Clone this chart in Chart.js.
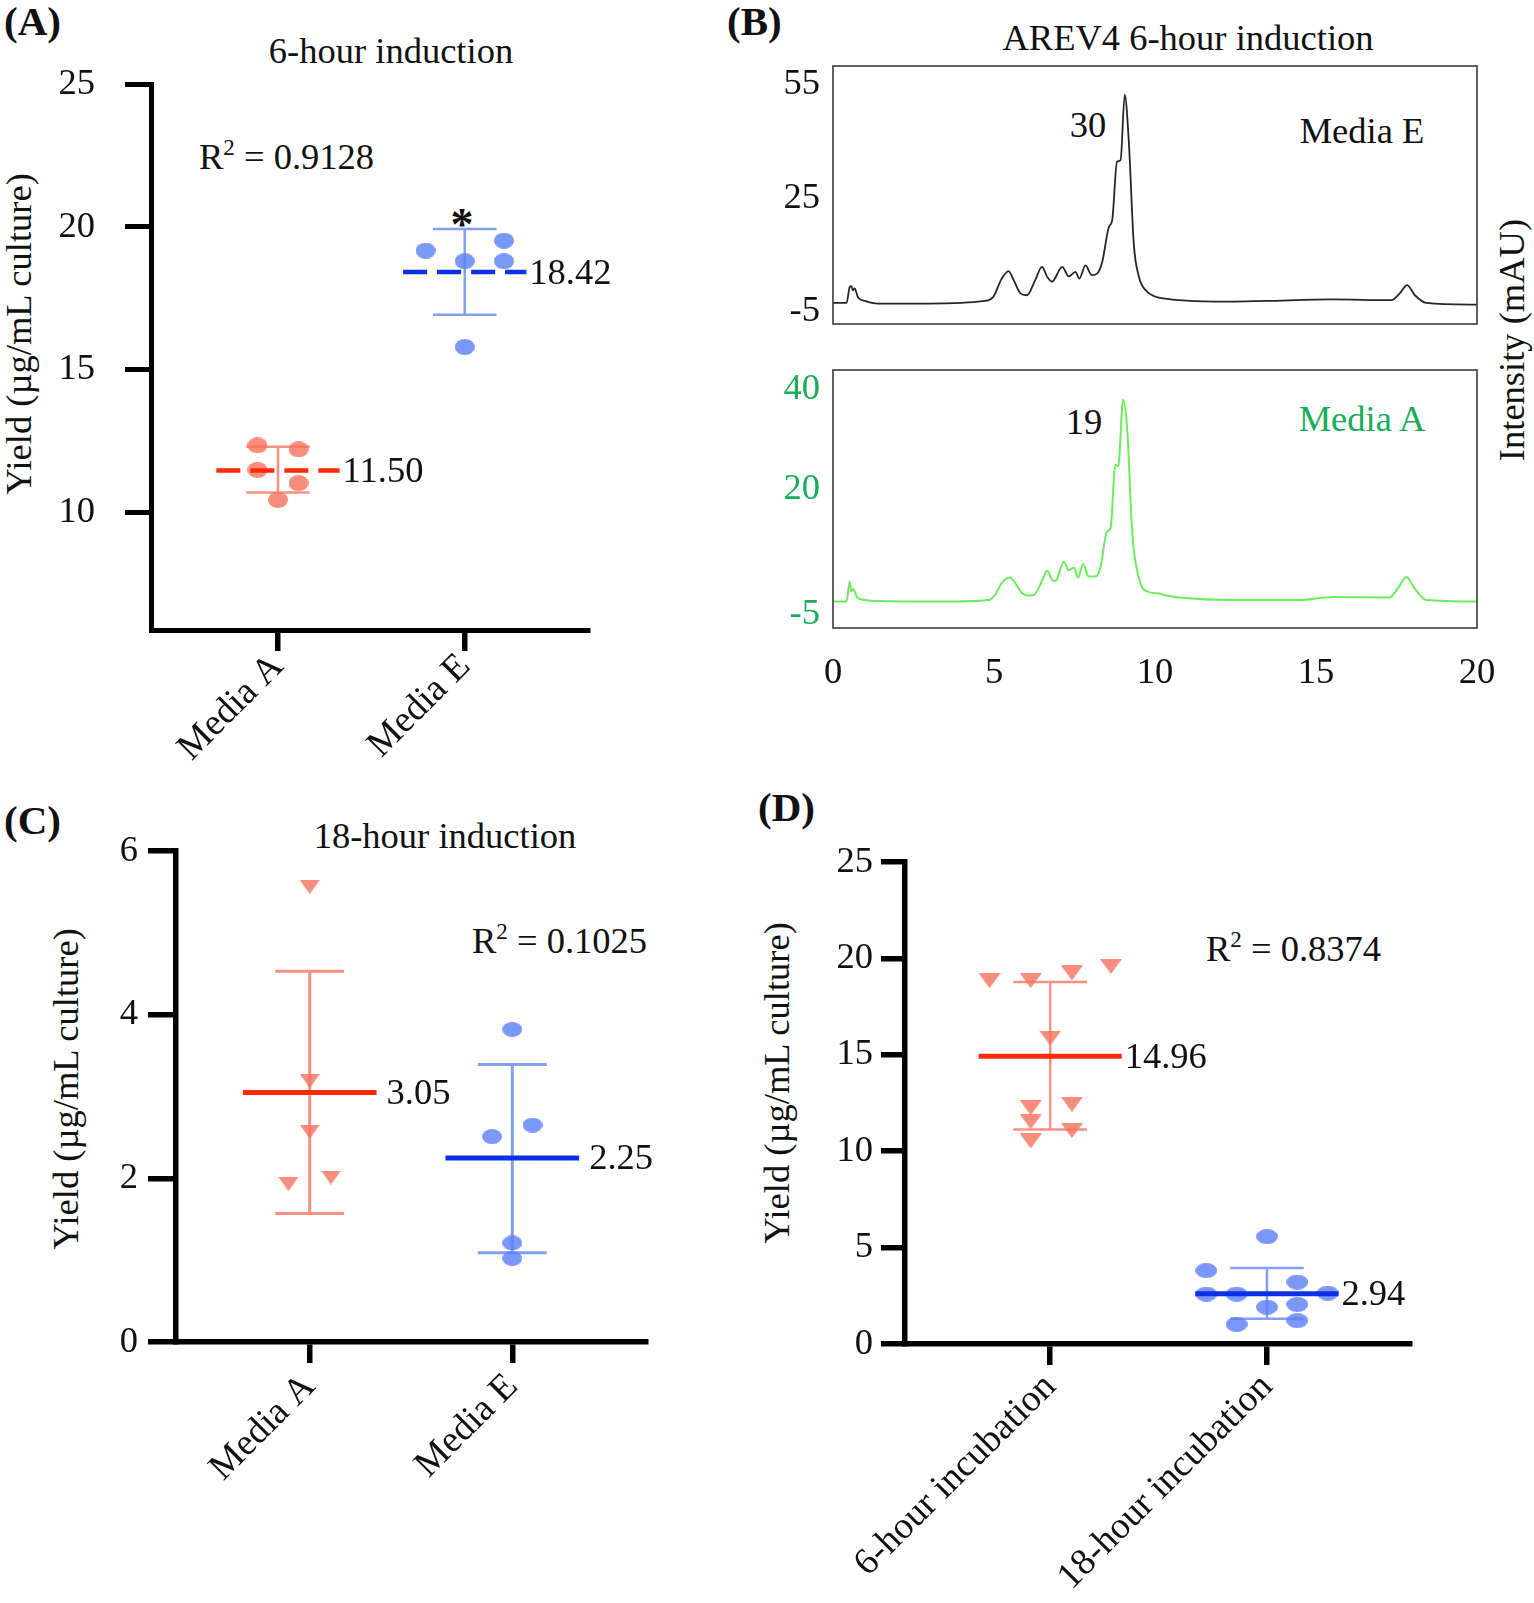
<!DOCTYPE html>
<html>
<head>
<meta charset="utf-8">
<script src="https://cdn.jsdelivr.net/npm/chart.js"></script>
<style>
  body { margin: 0; background: #fff; }
  #fig { position: relative; width: 1534px; height: 1603px; overflow: hidden;
         font-family: "Liberation Serif", "Times New Roman", serif; color: #111; }
  #fig canvas { position: absolute; }
  .t { position: absolute; white-space: nowrap; font-size: 36.5px; line-height: 1; }
  .l { transform: translate(0, -50%); }
  .c { transform: translate(-50%, -50%); }
  .v { transform: translate(-50%, -50%) rotate(-90deg); }
  .panel { font-weight: bold; font-size: 41px; }
  sup { font-size: 23px; line-height: 0; vertical-align: 14px; }
  .green { color: #18ad58; }
</style>
</head>
<body>
<div id="fig">
  <div class="t l panel" style="left:4px;top:21px">(A)</div>
  <div class="t l panel" style="left:727px;top:21px">(B)</div>
  <div class="t l panel" style="left:4px;top:820px">(C)</div>
  <div class="t l panel" style="left:758px;top:807px">(D)</div>

  <div class="t c" style="left:391px;top:51px">6-hour induction</div>
  <div class="t c" style="left:1188px;top:38px">AREV4 6-hour induction</div>
  <div class="t c" style="left:445px;top:836px">18-hour induction</div>

  <div class="t l" style="left:199px;top:157px">R<sup>2</sup> = 0.9128</div>
  <div class="t l" style="left:472px;top:941px">R<sup>2</sup> = 0.1025</div>
  <div class="t l" style="left:1206px;top:949px">R<sup>2</sup> = 0.8374</div>

  <div class="t v" style="left:19px;top:334px">Yield (µg/mL culture)</div>
  <div class="t v" style="left:66px;top:1089px">Yield (µg/mL culture)</div>
  <div class="t v" style="left:777px;top:1083px">Yield (µg/mL culture)</div>
  <div class="t v" style="left:1512px;top:340px">Intensity (mAU)</div>

  <div class="t c" style="left:462px;top:225px;font-weight:bold;font-size:46px">*</div>
  <div class="t c" style="left:1088px;top:125px">30</div>
  <div class="t c" style="left:1362px;top:131px">Media E</div>
  <div class="t c" style="left:1084px;top:422px">19</div>
  <div class="t c green" style="left:1362px;top:419px">Media A</div>

  <canvas id="chartA" width="700" height="720" style="left:0;top:60px"></canvas>
  <canvas id="chartB1" width="814" height="290" style="left:720px;top:55px"></canvas>
  <canvas id="chartB2" width="814" height="360" style="left:720px;top:350px"></canvas>
  <canvas id="chartC" width="720" height="778" style="left:0;top:825px"></canvas>
  <canvas id="chartD" width="814" height="768" style="left:720px;top:835px"></canvas>
</div>

<script>
// ---- panel A: 6-hour induction ----
const groupsA = ['Media A', 'Media E'];
const yieldA_mediaA = [12.36, 12.22, 11.50, 11.04, 10.45];
const jitterA_mediaA = [-0.11, 0.11, -0.11, 0.11, 0];
const yieldA_mediaE = [19.17, 19.52, 18.80, 18.80, 15.80];
const jitterA_mediaE = [-0.21, 0.21, 0, 0.21, 0];
const meanA = [11.48, 18.42];
const sdLowA = [10.71, 16.93];
const sdHighA = [12.31, 19.93];
const meanTextA = ['11.50', '18.42'];
const yTicksA = [10, 15, 20, 25];

// ---- panel B: chromatograms (time in min, intensity in mAU) ----
const chromE_time = [0, 0.42, 0.52, 0.57, 0.62, 0.67, 0.78, 0.99, 1.40, 2.96, 4.72, 4.98, 5.24, 5.45, 5.61,
  5.82, 6.02, 6.28, 6.49, 6.65, 6.80, 7.12, 7.32, 7.53, 7.65, 7.84, 8.04, 8.20, 8.36, 8.57, 8.67, 8.82,
  8.93, 9.06, 9.19, 9.34, 9.50, 9.71, 10.02, 10.33, 10.75, 12.3, 13.45, 15.52, 17.34, 17.60, 17.83, 18.07,
  18.43, 20];
const chromE_mau = [-2.6, -2.6, 1.6, 1.8, 0.7, 1.2, -1.2, -2.1, -2.8, -2.8, -2.1, -1.0, 3.8, 5.8, 3.4,
  -0.1, -0.6, 3.4, 6.9, 4.3, 3.0, 6.9, 4.4, 5.6, 3.8, 7.3, 4.7, 5.1, 8.2, 17.5, 19.2, 34.7,
  35.1, 52.4, 39.5, 13.1, 4.3, 0.7, -1.0, -1.5, -1.9, -2.3, -2.1, -1.7, -1.9, -0.1, 2.1, -0.6,
  -2.6, -3.1];
const chromA_time = [0, 0.42, 0.52, 0.57, 0.62, 0.78, 1.40, 3.48, 4.83, 5.03, 5.24, 5.50, 5.66, 5.87,
  6.08, 6.23, 6.49, 6.65, 6.80, 6.91, 7.17, 7.32, 7.48, 7.61, 7.77, 7.94, 8.15, 8.30, 8.51, 8.62, 8.77,
  8.86, 9.01, 9.14, 9.29, 9.50, 9.81, 10.13, 10.33, 10.75, 12.3, 14.48, 15.52, 17.28, 17.55, 17.81,
  18.07, 18.43, 20];
const chromA_mau = [-2.5, -2.5, 1.5, -0.5, 0.0, -1.9, -2.4, -2.5, -2.2, -1.2, 1.2, 2.3, 1.2, -0.8,
  -1.3, -1.2, 1.6, 3.7, 1.9, 1.6, 5.5, 3.7, 4.3, 2.3, 5.0, 2.5, 2.5, 4.2, 11.5, 12.2, 24.9,
  24.6, 38.0, 31.7, 11.5, 2.2, -0.6, -0.9, -1.3, -1.7, -2.2, -2.2, -1.6, -1.7, 0.2, 2.4,
  0.05, -2.2, -2.5];
const xTicksB = [0, 5, 10, 15, 20];
const yTicksB_top = [55, 25, -5];
const yTicksB_bottom = [40, 20, -5];

// ---- panel C: 18-hour induction ----
const groupsC = ['Media A', 'Media E'];
const yieldC_mediaA = [5.56, 3.19, 2.57, 1.93, 2.01];
const jitterC_mediaA = [0, 0, 0, -0.105, 0.105];
const yieldC_mediaE = [3.82, 2.51, 2.65, 1.21, 1.02];
const jitterC_mediaE = [0, -0.10, 0.10, 0, 0];
const meanC = [3.05, 2.25];
const sdLowC = [1.57, 1.09];
const sdHighC = [4.53, 3.39];
const meanTextC = ['3.05', '2.25'];
const yTicksC = [0, 2, 4, 6];

// ---- panel D: incubation time ----
const groupsD = ['6-hour incubation', '18-hour incubation'];
const yieldD_6h = [18.85, 18.85, 19.25, 19.58, 15.87, 12.26, 12.43, 11.53, 11.07, 10.53];
const jitterD_6h = [-0.28, -0.09, 0.10, 0.28, 0, -0.09, 0.10, -0.09, 0.10, -0.09];
const yieldD_18h = [5.57, 3.81, 2.59, 2.59, 3.21, 2.64, 1.91, 2.05, 1.02, 1.21];
const jitterD_18h = [0, -0.28, -0.28, -0.14, 0.14, 0.28, 0, 0.14, -0.14, 0.14];
const meanD = [14.92, 2.60];
const sdLowD = [11.12, 1.31];
const sdHighD = [18.77, 3.94];
const meanTextD = ['14.96', '2.94'];
const yTicksD = [0, 5, 10, 15, 20, 25];

Chart.defaults.font.family = '"Liberation Serif", "Times New Roman", serif';
Chart.defaults.color = '#111';
Chart.defaults.animation = false;

const SERIF = '"Liberation Serif", "Times New Roman", serif';
const RED_PT = 'rgba(248,112,92,0.8)';
const BLUE_PT = 'rgba(90,125,245,0.8)';
const RED_MEAN = '#ff2a08';
const BLUE_MEAN = '#0b30e6';
const RED_ERR = 'rgba(244,110,90,0.75)';
const BLUE_ERR = 'rgba(90,125,240,0.75)';
const MEAN_HALF = 0.33;
const CAP_HALF = 0.17;

// marker images (Prism-like flattened dots and down triangles)
function ellipse(w, h, color) {
  const c = document.createElement('canvas');
  c.width = w; c.height = h;
  const g = c.getContext('2d');
  g.fillStyle = color;
  g.beginPath();
  g.ellipse(w / 2, h / 2, w / 2, h / 2, 0, 0, Math.PI * 2);
  g.fill();
  return c;
}
function triDown(w, h, color) {
  const c = document.createElement('canvas');
  c.width = w; c.height = h;
  const g = c.getContext('2d');
  g.fillStyle = color;
  g.beginPath();
  g.moveTo(0, 0); g.lineTo(w, 0); g.lineTo(w / 2, h); g.closePath();
  g.fill();
  return c;
}

// chart area placement: canvas rect + wanted plot box (page pixels)
function place(canvasId, box) {
  const el = document.getElementById(canvasId);
  const cx = parseFloat(el.style.left), cy = parseFloat(el.style.top);
  return {
    padTop: box.top - cy,
    padRight: cx + el.width - box.right,
    yWidth: box.left - cx,
    xHeight: cy + el.height - box.bottom
  };
}

// fixed axis sizes; drop the label overflow padding so the plot box stays put
function fixY(width) {
  return s => { s.width = width; s.paddingTop = 0; s.paddingBottom = 0; };
}
function fixX(height) {
  return s => { s.height = height; s.paddingLeft = 0; s.paddingRight = 0; };
}

const meanLabels = {
  id: 'meanLabels',
  afterDatasetsDraw(chart, args, opts) {
    const { ctx, scales } = chart;
    ctx.save();
    ctx.font = '36.5px ' + SERIF;
    ctx.fillStyle = '#111';
    ctx.textAlign = 'left';
    ctx.textBaseline = 'middle';
    (opts.items || []).forEach(it => {
      ctx.fillText(it.text, scales.x.getPixelForValue(it.x) + opts.gap, scales.y.getPixelForValue(it.y) + 2);
    });
    ctx.restore();
  }
};

const frame = {
  id: 'frame',
  afterDraw(chart) {
    const a = chart.chartArea, ctx = chart.ctx;
    ctx.save();
    ctx.strokeStyle = '#3a3a3a';
    ctx.lineWidth = 1.6;
    ctx.strokeRect(a.left, a.top, a.right - a.left, a.bottom - a.top);
    ctx.restore();
  }
};

function dotPanel(id, p) {
  const pl = place(id, p.box);
  const colors = [[RED_PT, RED_MEAN, RED_ERR], [BLUE_PT, BLUE_MEAN, BLUE_ERR]];
  const datasets = [];
  p.groups.forEach((g, i) => {
    const [ptCol, meanCol, errCol] = colors[i];
    datasets.push({
      type: 'line', order: 0,
      data: [{ x: i - MEAN_HALF, y: p.means[i] }, { x: i + MEAN_HALF, y: p.means[i] }],
      borderColor: meanCol, borderWidth: p.meanWidth, borderDash: p.dashed ? [24, 10] : [],
      pointRadius: 0
    });
    datasets.push({
      type: 'scatter', order: 1,
      data: p.values[i].map((v, j) => ({ x: i + p.jitter[i][j], y: v })),
      pointStyle: p.markers[i], pointRadius: 10
    });
    const lo = p.lo[i], hi = p.hi[i];
    datasets.push({
      type: 'line', order: 2, spanGaps: false,
      data: [{ x: i - CAP_HALF, y: hi }, { x: i + CAP_HALF, y: hi }, { x: i, y: null },
             { x: i, y: hi }, { x: i, y: lo }, { x: i, y: null },
             { x: i - CAP_HALF, y: lo }, { x: i + CAP_HALF, y: lo }],
      borderColor: errCol, borderWidth: p.errWidth, pointRadius: 0
    });
  });

  return new Chart(document.getElementById(id), {
    data: { datasets },
    plugins: [meanLabels],
    options: {
      responsive: false,
      layout: { padding: { top: pl.padTop, right: pl.padRight, left: 0, bottom: 0 } },
      plugins: {
        legend: { display: false }, tooltip: { enabled: false },
        meanLabels: {
          gap: p.labelGap,
          items: p.means.map((m, i) => ({ x: i + MEAN_HALF, y: m, text: p.meanText[i] }))
        }
      },
      scales: {
        x: {
          type: 'linear', min: p.xMin, max: p.xMax,
          afterFit: fixX(pl.xHeight),
          afterBuildTicks: s => { s.ticks = p.groups.map((g, i) => ({ value: i })); },
          grid: { drawOnChartArea: false, drawTicks: true, tickLength: 21, lineWidth: 5.5, color: '#000' },
          border: { display: true, width: p.axisWidth, color: '#000' },
          ticks: {
            minRotation: 45, maxRotation: 45, padding: p.xPad, autoSkip: false,
            font: { size: 37.5 }, color: '#111',
            callback: v => p.groups[v] ?? ''
          }
        },
        y: {
          type: 'linear', min: p.yMin, max: p.yMax,
          afterFit: fixY(pl.yWidth),
          afterBuildTicks: s => { s.ticks = p.yTicks.map(v => ({ value: v })); },
          grid: { drawOnChartArea: false, drawTicks: true, tickLength: p.tickLen, lineWidth: p.axisWidth, color: '#000' },
          border: { display: true, width: p.axisWidth, color: '#000' },
          ticks: { padding: p.tickPad, font: { size: 36.5 }, color: '#111', autoSkip: false }
        }
      }
    }
  });
}

function chromPanel(id, p) {
  const pl = place(id, p.box);
  // the hidden x axis of the upper trace still takes xHeight through afterFit
  const xScale = {
    type: 'linear', min: 0, max: 20, display: p.showX,
    afterFit: fixX(pl.xHeight),
    afterBuildTicks: s => { s.ticks = xTicksB.map(v => ({ value: v })); },
    grid: { display: false },
    border: { display: false },
    ticks: { padding: 16, font: { size: 36.5 }, color: '#111', autoSkip: false, maxRotation: 0 }
  };
  return new Chart(document.getElementById(id), {
    type: 'line',
    data: {
      datasets: [{
        data: p.time.map((t, i) => ({ x: t, y: p.mau[i] })),
        borderColor: p.color, borderWidth: p.lineWidth,
        pointRadius: 0, cubicInterpolationMode: 'monotone', fill: false
      }]
    },
    plugins: [frame],
    options: {
      responsive: false,
      layout: { padding: { top: pl.padTop, right: pl.padRight, left: 0, bottom: 0 } },
      plugins: { legend: { display: false }, tooltip: { enabled: false } },
      scales: {
        x: xScale,
        y: {
          type: 'linear', min: p.yMin, max: p.yMax,
          afterFit: fixY(pl.yWidth),
          afterBuildTicks: s => { s.ticks = p.yTicks.map(v => ({ value: v })); },
          grid: { display: false },
          border: { display: false },
          ticks: { padding: 5, font: { size: 36.5 }, color: p.tickColor, autoSkip: false }
        }
      }
    }
  });
}

dotPanel('chartA', {
  box: { left: 151, top: 84, right: 588, bottom: 630 },
  groups: groupsA,
  values: [yieldA_mediaA, yieldA_mediaE],
  jitter: [jitterA_mediaA, jitterA_mediaE],
  means: meanA, lo: sdLowA, hi: sdHighA, meanText: meanTextA,
  markers: [ellipse(20, 16, RED_PT), ellipse(20, 16, BLUE_PT)],
  dashed: true, meanWidth: 4.5, errWidth: 2.5, labelGap: 3,
  xMin: -0.68, xMax: 1.66, yMin: 5.9, yMax: 25, yTicks: yTicksA,
  axisWidth: 5, tickLen: 26, tickPad: 30, xPad: -6
});

chromPanel('chartB1', {
  box: { left: 833, top: 66, right: 1477, bottom: 324 },
  time: chromE_time, mau: chromE_mau, color: '#262626', lineWidth: 1.8,
  yMin: -8.2, yMax: 60, yTicks: yTicksB_top, tickColor: '#111', showX: false
});

chromPanel('chartB2', {
  box: { left: 833, top: 370, right: 1477, bottom: 628 },
  time: chromA_time, mau: chromA_mau, color: '#6ced5c', lineWidth: 2,
  yMin: -7.8, yMax: 43.9, yTicks: yTicksB_bottom, tickColor: '#18ad58', showX: true
});

dotPanel('chartC', {
  box: { left: 176, top: 851, right: 646, bottom: 1342 },
  groups: groupsC,
  values: [yieldC_mediaA, yieldC_mediaE],
  jitter: [jitterC_mediaA, jitterC_mediaE],
  means: meanC, lo: sdLowC, hi: sdHighC, meanText: meanTextC,
  markers: [triDown(20, 14, RED_PT), ellipse(20, 15, BLUE_PT)],
  dashed: false, meanWidth: 5, errWidth: 3, labelGap: 10,
  xMin: -0.66, xMax: 1.66, yMin: 0, yMax: 6, yTicks: yTicksC,
  axisWidth: 5.5, tickLen: 28, tickPad: 10, xPad: 2
});

dotPanel('chartD', {
  box: { left: 905, top: 862, right: 1410, bottom: 1344 },
  groups: groupsD,
  values: [yieldD_6h, yieldD_18h],
  jitter: [jitterD_6h, jitterD_18h],
  means: meanD, lo: sdLowD, hi: sdHighD, meanText: meanTextD,
  markers: [triDown(22, 15, RED_PT), ellipse(22, 15, BLUE_PT)],
  dashed: false, meanWidth: 5, errWidth: 2.5, labelGap: 3,
  xMin: -0.67, xMax: 1.66, yMin: 0, yMax: 25, yTicks: yTicksD,
  axisWidth: 5.5, tickLen: 24, tickPad: 8, xPad: 0
});
</script>
</body>
</html>
